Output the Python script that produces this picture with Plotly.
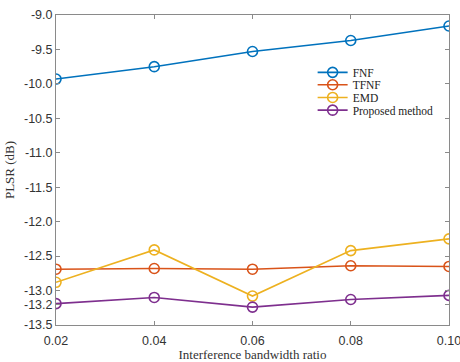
import plotly.graph_objects as go

x_vals = [0.02, 0.04, 0.06, 0.08, 0.10]
fnf = [-9.93, -9.75, -9.53, -9.37, -9.16]
tfnf = [-12.69, -12.68, -12.69, -12.64, -12.65]
emd = [-12.88, -12.41, -13.08, -12.42, -12.25]
proposed = [-13.19, -13.10, -13.24, -13.13, -13.07]

series_names = ["FNF", "TFNF", "EMD", "Proposed method"]
colors = ["#0072BD", "#D95319", "#EDB120", "#7E2F8E"]

y_tickvals = [-9.0, -9.5, -10.0, -10.5, -11.0, -11.5, -12.0, -12.5, -13.0, -13.2, -13.5]
y_ticktext = ["-9.0", "-9.5", "-10.0", "-10.5", "-11.0", "-11.5", "-12.0", "-12.5", "-13.0", "-13.2", "-13.5"]
x_ticktext = ["0.02", "0.04", "0.06", "0.08", "0.10"]

legend_ids = ["legend", "legend2", "legend3", "legend4"]
legend_y = [0.815, 0.775, 0.734, 0.693]

fig = go.Figure()
for name, ys, c, lid in zip(series_names, [fnf, tfnf, emd, proposed], colors, legend_ids):
    fig.add_trace(go.Scatter(
        x=x_vals, y=ys, name=name, mode="lines+markers", legend=lid,
        line=dict(color=c, width=1.6),
        marker=dict(symbol="circle-open", size=10, color=c, line=dict(width=1.6, color=c)),
    ))

axis_common = dict(
    showline=True, linecolor="#8a8a8a", linewidth=1, mirror="ticks",
    ticks="inside", ticklen=4, tickcolor="#8a8a8a", showgrid=False, zeroline=False,
    automargin=False, ticklabeloverflow="allow",
    tickfont=dict(family="Liberation Sans, Arial", size=12.5, color="#333333"),
)

fig.update_xaxes(range=[0.02, 0.1000001], tickvals=x_vals, ticktext=x_ticktext,
                 ticklabelstandoff=4,
                 title=dict(text="Interference bandwidth ratio", standoff=4,
                            font=dict(family="Liberation Serif, Times New Roman", size=13, color="#333333")),
                 **axis_common)
fig.update_yaxes(range=[-13.5, -9.0], tickvals=y_tickvals, ticktext=y_ticktext,
                 title=dict(text="PLSR (dB)", standoff=6,
                            font=dict(family="Liberation Serif, Times New Roman", size=13, color="#333333")),
                 **axis_common)

legend_font = dict(family="Liberation Serif, Times New Roman", size=11.5, color="#222222")
layout_legends = {}
for lid, ly in zip(legend_ids, legend_y):
    layout_legends[lid] = dict(x=0.653, y=ly, xanchor="left", yanchor="middle",
                               font=legend_font, bgcolor="rgba(0,0,0,0)",
                               itemwidth=30)

fig.update_layout(
    width=460, height=362,
    margin=dict(l=56, r=11, t=15, b=37),
    paper_bgcolor="white", plot_bgcolor="white",
    showlegend=True,
    **layout_legends,
)

fig.write_html("out.html")
